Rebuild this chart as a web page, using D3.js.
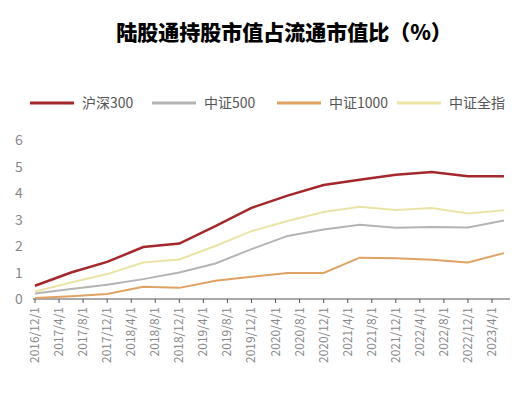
<!DOCTYPE html><html><head><meta charset="utf-8"><script src="https://cdn.jsdelivr.net/npm/d3@7"></script>
<style>body{margin:0;background:#fff}text{font-family:"Noto Sans CJK SC","Noto Sans",sans-serif}</style></head><body><svg id="c" width="528" height="401"></svg><script>
const tickLabels=["2016/12/1","2017/4/1","2017/8/1","2017/12/1","2018/4/1","2018/8/1","2018/12/1","2019/4/1","2019/8/1","2019/12/1","2020/4/1","2020/8/1","2020/12/1","2021/4/1","2021/8/1","2021/12/1","2022/4/1","2022/8/1","2022/12/1","2023/4/1"];
const months=[0,6,12,18,24,30,36,42,48,54,60,66,72,78];
const names=["沪深300","中证500","中证1000","中证全指"];
const colors=["#a3282c","#b4b4b4","#e0a263","#ebe3a6"];
const hs300=[0.5,1.0,1.4,1.96,2.09,2.75,3.44,3.9,4.3,4.5,4.69,4.79,4.63,4.63];
const zz500=[0.21,0.38,0.54,0.75,1.0,1.34,1.88,2.38,2.62,2.8,2.69,2.72,2.7,2.96];
const zz1000=[0.04,0.1,0.19,0.46,0.42,0.69,0.84,0.98,0.98,1.56,1.54,1.48,1.38,1.73];
const zzqz=[0.28,0.62,0.94,1.38,1.49,2.0,2.56,2.94,3.28,3.48,3.36,3.43,3.23,3.35];
const series=[hs300,zz500,zz1000,zzqz];
const svg=d3.select("#c");
svg.append("text").attr("x",284).attr("y",40).attr("text-anchor","middle").attr("font-size",21).attr("font-weight","900").attr("fill","#000").text("陆股通持股市值占流通市值比（%）");
const x=d3.scaleLinear().domain([0,76]).range([35,492]);
const y=d3.scaleLinear().domain([0,6]).range([299,140]);
const g=svg.append("g");
[0,1,2,3,4,5,6].forEach(v=>g.append("text").attr("x",19).attr("y",y(v)+5).attr("text-anchor","middle").attr("font-size",14).attr("fill","#888").text(v));
g.append("line").attr("x1",33).attr("x2",510).attr("y1",y(0)).attr("y2",y(0)).attr("stroke","#555");
tickLabels.forEach((t,i)=>{const xx=x(i*4);
g.append("line").attr("x1",xx).attr("x2",xx).attr("y1",y(0)).attr("y2",y(0)+4).attr("stroke","#555");
g.append("text").attr("transform",`translate(${xx+4},${y(0)+8}) rotate(-90)`).attr("text-anchor","end").attr("font-size",12).attr("fill","#888").text(t);});
const line=d3.line().x((d,i)=>x(months[i])).y(d=>y(d));
[1,2,3,0].forEach(k=>g.append("path").attr("d",line(series[k])).attr("fill","none").attr("stroke",colors[k]).attr("stroke-width",k==0?2.5:2));
const lx=[30,152,277,397];
names.forEach((n,i)=>{svg.append("line").attr("x1",lx[i]).attr("x2",lx[i]+44).attr("y1",103).attr("y2",103).attr("stroke",colors[i]).attr("stroke-width",3);
svg.append("text").attr("x",lx[i]+52).attr("y",108).attr("font-size",14).attr("fill","#555").text(n);});
</script></body></html>
